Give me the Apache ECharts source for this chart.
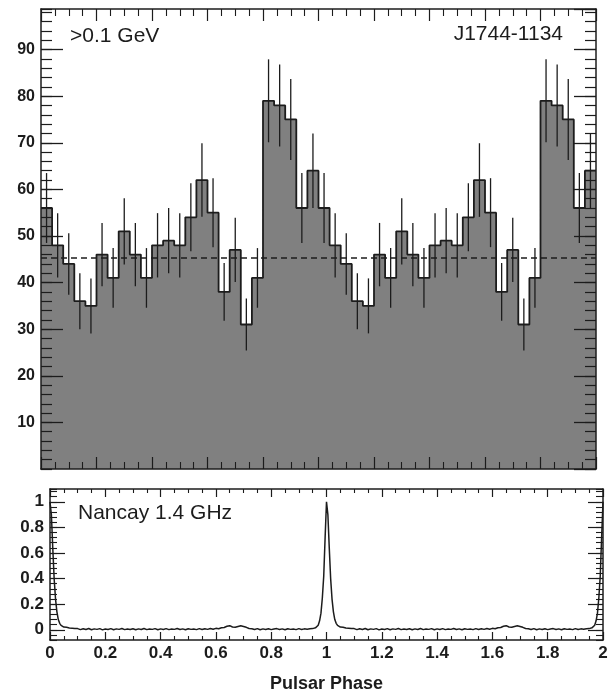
<!DOCTYPE html>
<html>
<head>
<meta charset="utf-8">
<title>PSR J1744-1134 light curve</title>
<script src="https://cdn.jsdelivr.net/npm/echarts@6/dist/echarts.min.js"></script>
<style>
  html, body { margin: 0; padding: 0; background: #ffffff; }
  #chart { width: 616px; height: 700px; }
</style>
</head>
<body>
<div id="chart"></div>
<script>
// Gamma-ray phaseogram (>0.1 GeV), one rotation, bins of 0.04 in phase (left edges)
const binEdges = [0.00, 0.04, 0.08, 0.12, 0.16, 0.20, 0.24, 0.28, 0.32, 0.36,
                  0.40, 0.44, 0.48, 0.52, 0.56, 0.60, 0.64, 0.68, 0.72, 0.76,
                  0.80, 0.84, 0.88, 0.92, 0.96];
const binCenters = [0.02, 0.06, 0.10, 0.14, 0.18, 0.22, 0.26, 0.30, 0.34, 0.38,
                    0.42, 0.46, 0.50, 0.54, 0.58, 0.62, 0.66, 0.70, 0.74, 0.78,
                    0.82, 0.86, 0.90, 0.94, 0.98];
const counts = [56, 48, 44, 36, 35, 46, 41, 51, 46, 41,
                48, 49, 48, 54, 62, 55, 38, 47, 31, 41,
                79, 78, 75, 56, 64];
const countErrors = [7.5, 6.9, 6.6, 6.0, 5.9, 6.8, 6.4, 7.1, 6.8, 6.4,
                     6.9, 7.0, 6.9, 7.3, 7.9, 7.4, 6.2, 6.9, 5.6, 6.4,
                     8.9, 8.8, 8.7, 7.5, 8.0];
const backgroundLevel = 45.3;

// Nancay 1.4 GHz radio profile, one rotation (normalised flux)
const radioPhase = [
  0.000, 0.005, 0.010, 0.015, 0.020, 0.025, 0.030, 0.035, 0.040, 0.045, 0.050,
  0.055, 0.060, 0.065, 0.070, 0.075, 0.080, 0.085, 0.090, 0.095,
  0.10, 0.11, 0.12, 0.13, 0.14, 0.15, 0.16, 0.17, 0.18, 0.19,
  0.20, 0.21, 0.22, 0.23, 0.24, 0.25, 0.26, 0.27, 0.28, 0.29,
  0.30, 0.31, 0.32, 0.33, 0.34, 0.35, 0.36, 0.37, 0.38, 0.39,
  0.40, 0.41, 0.42, 0.43, 0.44, 0.45, 0.46, 0.47, 0.48, 0.49,
  0.50, 0.51, 0.52, 0.53, 0.54, 0.55, 0.56, 0.57, 0.58, 0.59,
  0.60, 0.61, 0.62, 0.63, 0.64, 0.65, 0.66, 0.67, 0.68, 0.69,
  0.70, 0.71, 0.72, 0.73, 0.74, 0.75, 0.76, 0.77, 0.78, 0.79,
  0.80, 0.81, 0.82, 0.83, 0.84, 0.85, 0.86, 0.87, 0.88, 0.89,
  0.90, 0.91, 0.92, 0.93, 0.94, 0.95,
  0.955, 0.960, 0.965, 0.970, 0.975, 0.980, 0.985, 0.990, 0.995
];
const radioFlux = [
  1.00, 0.90, 0.64, 0.40, 0.24, 0.14, 0.08, 0.05, 0.034, 0.025, 0.021,
  0.016, 0.019, 0.011, 0.014, 0.008, 0.012, 0.006, 0.010, 0.004,
  0.009, 0.001, 0.008, 0.002, 0.010, 0.000, 0.007, 0.003, 0.009, -0.001,
  0.006, 0.002, 0.009, 0.000, 0.007, 0.003, 0.010, 0.001, 0.006, 0.002,
  0.008, 0.000, 0.007, 0.002, 0.010, 0.001, 0.006, 0.003, 0.009, 0.000,
  0.007, 0.002, 0.009, 0.001, 0.006, 0.003, 0.010, 0.002, 0.007, 0.000,
  0.008, 0.003, 0.006, 0.001, 0.009, 0.002, 0.008, 0.003, 0.010, 0.004,
  0.011, 0.008, 0.016, 0.018, 0.027, 0.032, 0.022, 0.020, 0.026, 0.031,
  0.026, 0.019, 0.010, 0.008, 0.002, 0.009, 0.000, 0.007, 0.002, 0.008,
  0.001, 0.006, 0.009, 0.002, 0.007, 0.000, 0.008, 0.003, 0.006, 0.001,
  0.009, 0.002, 0.007, 0.004, 0.008, 0.009,
  0.011, 0.015, 0.021, 0.035, 0.07, 0.13, 0.25, 0.42, 0.72
];

// Axis ticks
const phaseTickStep = 0.2;
const countsTickStep = 10;
const countsMinorStep = 2;
const fluxTicks = [0, 0.2, 0.4, 0.6, 0.8, 1];
const fluxMinorStep = 0.04;

// Two rotations are shown side by side
const rotations = [0, 1];

const histData = [];
rotations.forEach(r => binEdges.forEach((e, i) => histData.push([e + r, counts[i]])));
histData.push([2, counts[counts.length - 1]]);

const errData = [];
rotations.forEach(r => binCenters.forEach((c, i) =>
  errData.push([c + r, counts[i] - countErrors[i], counts[i] + countErrors[i]])));

const radioData = [];
rotations.forEach(r => radioPhase.forEach((p, i) => radioData.push([p + r, radioFlux[i]])));
radioData.push([2, radioFlux[0]]);

const ink = '#1c1c1c';
const labelFont = "'Liberation Sans', Arial, sans-serif";

function phaseAxis(gridIndex, position, showLabels, major, minor) {
  return {
    type: 'value', gridIndex, position, min: 0, max: 2, interval: phaseTickStep, z: 5,
    axisLine: { show: true, onZero: false, lineStyle: { color: ink, width: 1.5 } },
    axisTick: { show: true, inside: true, length: major, lineStyle: { color: ink, width: 1.2 } },
    minorTick: { show: true, splitNumber: 4, length: minor, lineStyle: { color: ink, width: 1.1 } },
    splitLine: { show: false }, minorSplitLine: { show: false },
    axisLabel: {
      show: showLabels, margin: 5, color: ink, fontFamily: labelFont,
      fontWeight: 'bold', fontSize: 17
    }
  };
}

const chart = echarts.init(document.getElementById('chart'), null, { renderer: 'canvas' });

chart.setOption({
  backgroundColor: '#ffffff',
  animation: false,
  grid: [
    { left: 41, top: 9, width: 555, height: 460, outerBoundsMode: 'none', containLabel: false },
    { left: 50, top: 489, width: 553, height: 151, outerBoundsMode: 'none', containLabel: false }
  ],
  xAxis: [
    phaseAxis(0, 'bottom', false, 12, 7),
    phaseAxis(0, 'top', false, 12, 7),
    Object.assign(phaseAxis(1, 'bottom', true, 8, 4), {
      name: 'Pulsar Phase', nameLocation: 'middle', nameGap: 35,
      nameTextStyle: { color: ink, fontFamily: labelFont, fontWeight: 'bold', fontSize: 18 }
    }),
    phaseAxis(1, 'top', false, 8, 4)
  ],
  yAxis: [
    { // counts, labelled major ticks (left)
      type: 'value', gridIndex: 0, position: 'left', min: 0, max: 98.7, interval: countsTickStep, z: 5,
      axisLine: { show: true, lineStyle: { color: ink, width: 1.5 } },
      axisTick: { show: true, inside: true, length: 22, lineStyle: { color: ink, width: 1.3 } },
      splitLine: { show: false },
      axisLabel: { show: true, showMinLabel: false, showMaxLabel: false, margin: 6, color: ink,
                   fontFamily: labelFont, fontWeight: 'bold', fontSize: 16 }
    },
    { // counts, minor ticks (left)
      type: 'value', gridIndex: 0, position: 'left', min: 0, max: 98.7, interval: countsMinorStep, z: 5,
      axisLine: { show: false }, splitLine: { show: false }, axisLabel: { show: false },
      axisTick: { show: true, inside: true, length: 11, lineStyle: { color: ink, width: 1.2 } }
    },
    { // counts, major ticks (right)
      type: 'value', gridIndex: 0, position: 'right', min: 0, max: 98.7, interval: countsTickStep, z: 5,
      axisLine: { show: true, lineStyle: { color: ink, width: 1.5 } },
      axisTick: { show: true, inside: true, length: 22, lineStyle: { color: ink, width: 1.3 } },
      splitLine: { show: false }, axisLabel: { show: false }
    },
    { // counts, minor ticks (right)
      type: 'value', gridIndex: 0, position: 'right', min: 0, max: 98.7, interval: countsMinorStep, z: 5,
      axisLine: { show: false }, splitLine: { show: false }, axisLabel: { show: false },
      axisTick: { show: true, inside: true, length: 11, lineStyle: { color: ink, width: 1.2 } }
    },
    { // radio flux, labelled ticks (left)
      type: 'value', gridIndex: 1, position: 'left', min: -0.08, max: 1.1, z: 5,
      axisLine: { show: true, lineStyle: { color: ink, width: 1.5 } },
      axisTick: { show: true, inside: true, length: 15, customValues: fluxTicks,
                  lineStyle: { color: ink, width: 1.2 } },
      splitLine: { show: false },
      axisLabel: { show: true, customValues: fluxTicks, margin: 6, color: ink,
                   fontFamily: labelFont, fontWeight: 'bold', fontSize: 17 }
    },
    { // radio flux, minor ticks (left)
      type: 'value', gridIndex: 1, position: 'left', min: -0.08, max: 1.1, interval: fluxMinorStep, z: 5,
      axisLine: { show: false }, splitLine: { show: false }, axisLabel: { show: false },
      axisTick: { show: true, inside: true, length: 7, lineStyle: { color: ink, width: 1.1 } }
    },
    { // radio flux, major ticks (right)
      type: 'value', gridIndex: 1, position: 'right', min: -0.08, max: 1.1, z: 5,
      axisLine: { show: true, lineStyle: { color: ink, width: 1.5 } },
      axisTick: { show: true, inside: true, length: 15, customValues: fluxTicks,
                  lineStyle: { color: ink, width: 1.2 } },
      splitLine: { show: false }, axisLabel: { show: false }
    },
    { // radio flux, minor ticks (right)
      type: 'value', gridIndex: 1, position: 'right', min: -0.08, max: 1.1, interval: fluxMinorStep, z: 5,
      axisLine: { show: false }, splitLine: { show: false }, axisLabel: { show: false },
      axisTick: { show: true, inside: true, length: 7, lineStyle: { color: ink, width: 1.1 } }
    }
  ],
  series: [
    {
      name: 'counts', type: 'line', xAxisIndex: 0, yAxisIndex: 0, step: 'end',
      data: histData, showSymbol: false, symbol: 'none', z: 2,
      lineStyle: { color: ink, width: 1.8 },
      areaStyle: { color: '#808080', opacity: 1, origin: 'start' },
      markLine: {
        silent: true, symbol: 'none', label: { show: false },
        lineStyle: { color: ink, width: 1.5, type: [6, 4] },
        data: [{ yAxis: backgroundLevel }]
      }
    },
    {
      name: 'errors', type: 'custom', xAxisIndex: 0, yAxisIndex: 0, z: 3,
      data: errData,
      renderItem: (params, api) => {
        const lo = api.coord([api.value(0), api.value(1)]);
        const hi = api.coord([api.value(0), api.value(2)]);
        return {
          type: 'line',
          shape: { x1: lo[0], y1: lo[1], x2: hi[0], y2: hi[1] },
          style: { stroke: ink, lineWidth: 1.3 }
        };
      }
    },
    {
      name: 'radio', type: 'line', xAxisIndex: 2, yAxisIndex: 4,
      data: radioData, showSymbol: false, symbol: 'none', z: 2,
      lineStyle: { color: ink, width: 1.5 }
    }
  ],
  graphic: [
    { type: 'text', left: 70, top: 26, z: 10,
      style: { text: '>0.1 GeV', fill: ink, font: "21px 'Liberation Sans', Arial, sans-serif" } },
    { type: 'text', right: 53, top: 24, z: 10,
      style: { text: 'J1744-1134', fill: ink, font: "21px 'Liberation Sans', Arial, sans-serif" } },
    { type: 'text', left: 78, top: 503, z: 10,
      style: { text: 'Nancay 1.4 GHz', fill: ink, font: "21px 'Liberation Sans', Arial, sans-serif" } }
  ]
});
</script>
</body>
</html>
